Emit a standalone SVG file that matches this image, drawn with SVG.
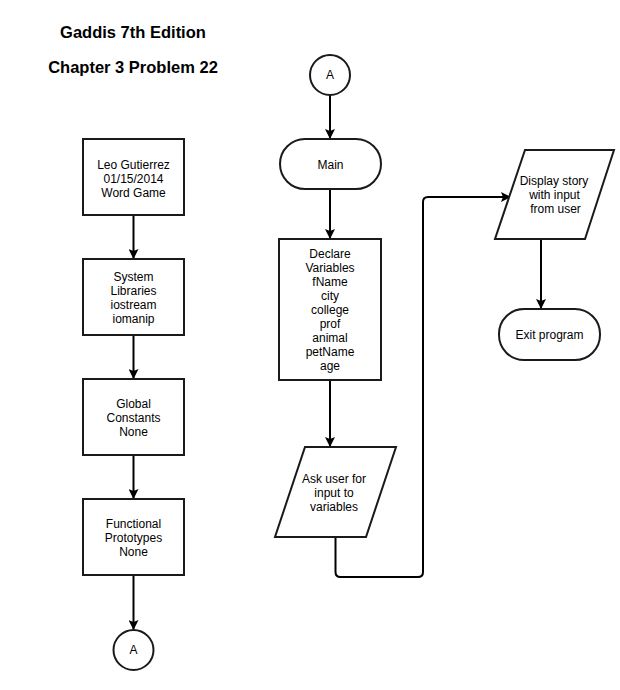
<svg xmlns="http://www.w3.org/2000/svg" width="620" height="690" viewBox="0 0 620 690">
<style>
  .n { fill: #fff; stroke: #1a1a1a; stroke-width: 2; }
  .t { font-family: "Liberation Sans", Arial, sans-serif; font-size: 12px; fill: #000; text-anchor: middle; }
  .h { font-family: "Liberation Sans", Arial, sans-serif; font-size: 16.5px; font-weight: bold; fill: #000; text-anchor: middle; }
  .c { fill: none; stroke: #000; stroke-width: 2; }
</style>
<defs>
  <marker id="arr" markerUnits="userSpaceOnUse" markerWidth="10" markerHeight="10" refX="9" refY="5" orient="auto">
    <path d="M0,0 L10,5 L0,10 L2,5 Z" fill="#000"/>
  </marker>
</defs>
<rect width="620" height="690" fill="#fff"/>
<text class="h" x="133" y="38">Gaddis 7th Edition</text>
<text class="h" x="133" y="73">Chapter 3 Problem 22</text>

<g id="connectors">
  <path class="c" d="M133.5 215 V258" marker-end="url(#arr)"/>
  <path class="c" d="M133.5 335 V378" marker-end="url(#arr)"/>
  <path class="c" d="M133.5 455 V498" marker-end="url(#arr)"/>
  <path class="c" d="M133.5 575 V629" marker-end="url(#arr)"/>
  <path class="c" d="M330 95 V138" marker-end="url(#arr)"/>
  <path class="c" d="M330 189 V238" marker-end="url(#arr)"/>
  <path class="c" d="M330 380 V446" marker-end="url(#arr)"/>
  <path class="c" d="M335.5 537 V572 Q335.5 577 340.5 577 H418 Q423 577 423 572 V202 Q423 197 428 197 H510" marker-end="url(#arr)"/>
  <path class="c" d="M541 239 V308" marker-end="url(#arr)"/>
</g>

<g id="info">
  <rect class="n" x="83" y="139" width="101" height="76"/>
  <text class="t" x="133.5" y="168.5">Leo Gutierrez</text>
  <text class="t" x="133.5" y="182.5">01/15/2014</text>
  <text class="t" x="133.5" y="196.5">Word Game</text>
</g>
<g id="libraries">
  <rect class="n" x="83" y="259" width="101" height="76"/>
  <text class="t" x="133.5" y="281">System</text>
  <text class="t" x="133.5" y="295">Libraries</text>
  <text class="t" x="133.5" y="309">iostream</text>
  <text class="t" x="133.5" y="323">iomanip</text>
</g>
<g id="constants">
  <rect class="n" x="83" y="379" width="101" height="76"/>
  <text class="t" x="133.5" y="407.5">Global</text>
  <text class="t" x="133.5" y="421.5">Constants</text>
  <text class="t" x="133.5" y="435.5">None</text>
</g>
<g id="prototypes">
  <rect class="n" x="83" y="499" width="101" height="76"/>
  <text class="t" x="133.5" y="527.5">Functional</text>
  <text class="t" x="133.5" y="541.5">Prototypes</text>
  <text class="t" x="133.5" y="555.5">None</text>
</g>
<g id="connA1">
  <circle class="n" cx="133.5" cy="650" r="20"/>
  <text class="t" x="133.5" y="654">A</text>
</g>
<g id="connA2">
  <circle class="n" cx="330" cy="75" r="20"/>
  <text class="t" x="330" y="79">A</text>
</g>
<g id="main">
  <rect class="n" x="280" y="139" width="101" height="50" rx="25" ry="25"/>
  <text class="t" x="330.5" y="168.5">Main</text>
</g>
<g id="declare">
  <rect class="n" x="279" y="239" width="102" height="141"/>
  <text class="t" x="330" y="258">Declare</text>
  <text class="t" x="330" y="272">Variables</text>
  <text class="t" x="330" y="286">fName</text>
  <text class="t" x="330" y="300">city</text>
  <text class="t" x="330" y="314">college</text>
  <text class="t" x="330" y="328">prof</text>
  <text class="t" x="330" y="342">animal</text>
  <text class="t" x="330" y="356">petName</text>
  <text class="t" x="330" y="370">age</text>
</g>
<g id="ask">
  <polygon class="n" points="305,447 396,447 366,537 275,537"/>
  <text class="t" x="334" y="483">Ask user for</text>
  <text class="t" x="334" y="497">input to</text>
  <text class="t" x="334" y="511">variables</text>
</g>
<g id="display">
  <polygon class="n" points="525,150 614,150 585,239 495,239"/>
  <text class="t" x="554" y="185">Display story</text>
  <text class="t" x="554.5" y="199">with input</text>
  <text class="t" x="555.5" y="213">from user</text>
</g>
<g id="exit">
  <rect class="n" x="499" y="309" width="101" height="51" rx="25" ry="25"/>
  <text class="t" x="549.5" y="339">Exit program</text>
</g>
</svg>
